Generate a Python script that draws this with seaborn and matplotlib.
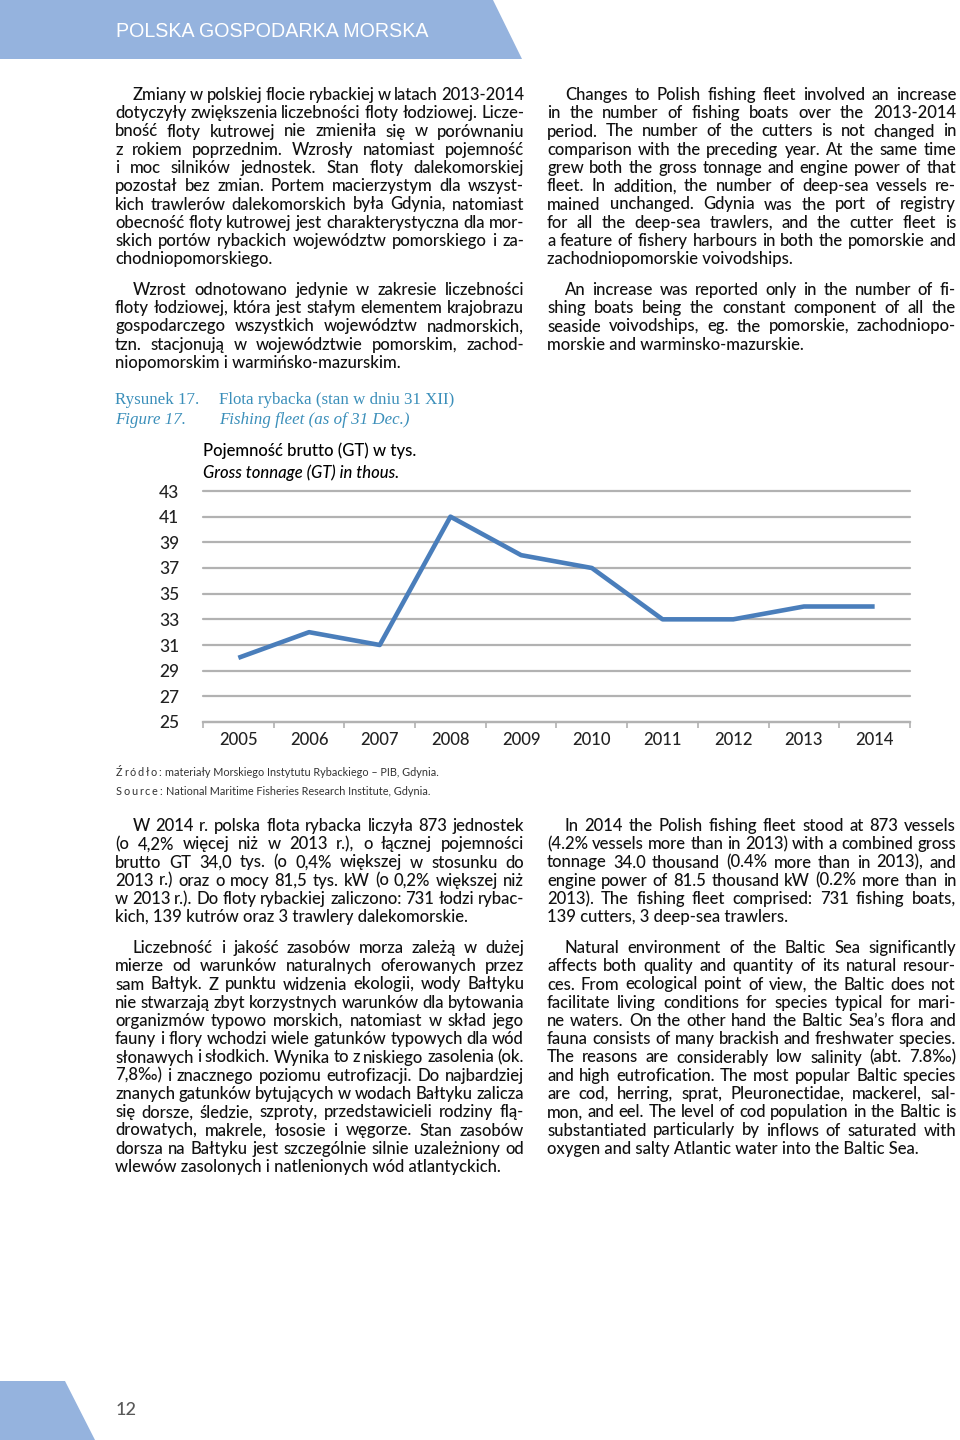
import matplotlib
matplotlib.use("Agg")
import matplotlib.pyplot as plt
import numpy as np
import seaborn as sns
from matplotlib.patches import Polygon

# chart data
years = [2005, 2006, 2007, 2008, 2009, 2010, 2011, 2012, 2013, 2014]
gross_tonnage = [30, 32, 31, 41, 38, 37, 33, 33, 34, 34]
y_ticks = [25, 27, 29, 31, 33, 35, 37, 39, 41, 43]

header_text = "POLSKA GOSPODARKA MORSKA"
page_number = "12"
caption_pl = ["Rysunek 17.", "Flota rybacka (stan w dniu 31 XII)"]
caption_en = ["Figure 17.", "Fishing fleet (as of 31 Dec.)"]
chart_title = ["Pojemność brutto (GT) w tys.", "Gross tonnage (GT) in thous."]
source_pl = ["Źródło:", "materiały Morskiego Instytutu Rybackiego – PIB, Gdynia."]
source_en = ["Source:", "National Maritime Fisheries Research Institute, Gdynia."]

left_top_1 = [
    "Zmiany w polskiej flocie rybackiej w latach 2013-2014",
    "dotyczyły zwiększenia liczebności floty łodziowej. Licze-",
    "bność floty kutrowej nie zmieniła się w porównaniu",
    "z rokiem poprzednim. Wzrosły natomiast pojemność",
    "i moc silników jednostek. Stan floty dalekomorskiej",
    "pozostał bez zmian. Portem macierzystym dla wszyst-",
    "kich trawlerów dalekomorskich była Gdynia, natomiast",
    "obecność floty kutrowej jest charakterystyczna dla mor-",
    "skich portów rybackich województw pomorskiego i za-",
    "chodniopomorskiego.",
]
left_top_2 = [
    "Wzrost odnotowano jedynie w zakresie liczebności",
    "floty łodziowej, która jest stałym elementem krajobrazu",
    "gospodarczego wszystkich województw nadmorskich,",
    "tzn. stacjonują w województwie pomorskim, zachod-",
    "niopomorskim i warmińsko-mazurskim.",
]
right_top_1 = [
    "Changes to Polish fishing fleet involved an increase",
    "in the number of fishing boats over the 2013-2014",
    "period. The number of the cutters is not changed in",
    "comparison with the preceding year. At the same time",
    "grew both the gross tonnage and engine power of that",
    "fleet. In addition, the number of deep-sea vessels re-",
    "mained unchanged. Gdynia was the port of registry",
    "for all the deep-sea trawlers, and the cutter fleet is",
    "a feature of fishery harbours in both the pomorskie and",
    "zachodniopomorskie voivodships.",
]
right_top_2 = [
    "An increase was reported only in the number of  fi-",
    "shing boats being the constant component of all the",
    "seaside voivodships, eg. the pomorskie, zachodniopo-",
    "morskie and warminsko-mazurskie.",
]
left_bottom_1 = [
    "W 2014 r. polska flota rybacka liczyła 873 jednostek",
    "(o 4,2% więcej niż w 2013 r.), o łącznej pojemności",
    "brutto GT 34,0 tys. (o 0,4% większej w stosunku do",
    "2013 r.) oraz o mocy 81,5 tys. kW (o 0,2% większej niż",
    "w 2013 r.). Do floty rybackiej zaliczono: 731 łodzi rybac-",
    "kich, 139 kutrów oraz 3 trawlery dalekomorskie.",
]
left_bottom_2 = [
    "Liczebność i jakość zasobów morza zależą w dużej",
    "mierze od warunków naturalnych oferowanych przez",
    "sam Bałtyk. Z punktu widzenia ekologii, wody Bałtyku",
    "nie stwarzają zbyt korzystnych warunków dla bytowania",
    "organizmów typowo morskich, natomiast w skład jego",
    "fauny i flory wchodzi wiele gatunków typowych dla wód",
    "słonawych i słodkich. Wynika to z niskiego zasolenia (ok.",
    "7,8‰) i znacznego poziomu eutrofizacji. Do najbardziej",
    "znanych gatunków bytujących w wodach Bałtyku zalicza",
    "się dorsze, śledzie, szproty, przedstawicieli rodziny flą-",
    "drowatych, makrele, łososie i węgorze. Stan zasobów",
    "dorsza na Bałtyku jest szczególnie silnie uzależniony od",
    "wlewów zasolonych i natlenionych wód atlantyckich.",
]
right_bottom_1 = [
    "In 2014 the Polish fishing fleet stood at 873 vessels",
    "(4.2% vessels more than in 2013) with a combined gross",
    "tonnage 34.0 thousand (0.4% more than in 2013), and",
    "engine power of 81.5 thousand kW (0.2% more than in",
    "2013). The fishing fleet comprised: 731 fishing boats,",
    "139 cutters, 3 deep-sea trawlers.",
]
right_bottom_2 = [
    "Natural environment of the Baltic Sea significantly",
    "affects both quality and quantity of its natural resour-",
    "ces. From ecological point of view, the Baltic does not",
    "facilitate living conditions for species typical for mari-",
    "ne waters. On the other hand the Baltic Sea’s flora and",
    "fauna consists of many brackish and freshwater species.",
    "The reasons are considerably low salinity (abt. 7.8‰)",
    "and high eutrofication. The most popular Baltic species",
    "are cod, herring, sprat, Pleuronectidae, mackerel, sal-",
    "mon, and eel. The level of cod population in the Baltic is",
    "substantiated particularly by inflows of saturated with",
    "oxygen and salty Atlantic water into the Baltic Sea.",
]

BLUE_BAND = "#95b3de"
BODY = "#111111"
TEAL = "#3b8fba"
LINE = "#4a7ebb"
GRID = "#b2b2b2"
WEIGHT = "medium"

sns.set_theme(style="white")
plt.rcParams["font.family"] = ["Lato", "DejaVu Sans"]

fig = plt.figure(figsize=(9.6, 14.4), dpi=100)
page = fig.add_axes([0, 0, 1, 1])
page.set_xlim(0, 960)
page.set_ylim(1440, 0)
page.axis("off")
renderer = fig.canvas.get_renderer()


def width_of(text, size, **kw):
    t = page.text(0, 0, text, fontsize=size, **kw)
    w = t.get_window_extent(renderer).width
    t.remove()
    return w


def fit_size(text, target, **kw):
    return 10 * target / width_of(text, 10, **kw)


def draw_line(line, left, right, y, justify, size):
    words = [w for w in line.split(" ") if w]
    avail = right - left
    if not justify or len(words) < 2:
        s = size
        w = width_of(line, s, weight=WEIGHT)
        if w > avail:
            s *= avail / w
        page.text(left, y, line, fontsize=s, weight=WEIGHT, color=BODY,
                  va="baseline", ha="left")
        return
    s = size
    while True:
        ws = [width_of(w, s, weight=WEIGHT) for w in words]
        gap = (avail - sum(ws)) / (len(words) - 1)
        if gap >= 0.17 * s * 100 / 72 or s < size * 0.8:
            break
        s *= 0.975
    x = left
    for w, wd in zip(words, ws):
        page.text(x, y, w, fontsize=s, weight=WEIGHT, color=BODY, va="baseline", ha="left")
        x += wd + gap


def draw_par(lines, x0, x1, y0, size, step=18.25, indent=18):
    for i, line in enumerate(lines):
        left = x0 + (indent if i == 0 else 0)
        draw_line(line, left, x1, y0 + i * step, i < len(lines) - 1, size)


def tracked(text, x, y, size, track, **kw):
    for ch in text:
        page.text(x, y, ch, fontsize=size, va="baseline", ha="left", **kw)
        x += width_of(ch, size) + track
    return x


# header and footer bands
page.add_patch(Polygon([(0, 0), (493, 0), (522, 59), (0, 59)], closed=True,
                       facecolor=BLUE_BAND, edgecolor="none"))
page.add_patch(Polygon([(0, 1381), (65, 1381), (95, 1440), (0, 1440)], closed=True,
                       facecolor=BLUE_BAND, edgecolor="none"))
hs = fit_size(header_text, 312, family="Liberation Sans")
page.text(116, 37, header_text, fontsize=hs, family="Liberation Sans",
          color="white", va="baseline", ha="left")
page.text(116, 1415, page_number, fontsize=13, weight=WEIGHT, color="#595959",
          va="baseline", ha="left")

# body text size calibrated on the unjustified paragraph endings
calib = [("wlewów zasolonych i natlenionych wód atlantyckich.", 388),
         ("oxygen and salty Atlantic water into the Baltic Sea.", 372),
         ("zachodniopomorskie voivodships.", 250)]
body = float(np.mean([fit_size(t, w, weight=WEIGHT) for t, w in calib]))

L0, L1, R0, R1 = 115, 524, 547, 956
draw_par(left_top_1, L0, L1, 100, body)
draw_par(right_top_1, R0, R1, 100, body)
draw_par(left_top_2, L0, L1, 295, body)
draw_par(right_top_2, R0, R1, 295, body)
draw_par(left_bottom_1, L0, L1, 831, body)
draw_par(right_bottom_1, R0, R1, 831, body)
draw_par(left_bottom_2, L0, L1, 953, body)
draw_par(right_bottom_2, R0, R1, 953, body)

# figure caption
SERIF = "Liberation Serif"
cs = fit_size(caption_pl[1], 235, family=SERIF)
page.text(115, 404, caption_pl[0], fontsize=cs, family=SERIF, color=TEAL, va="baseline")
page.text(219, 404, caption_pl[1], fontsize=cs, family=SERIF, color=TEAL, va="baseline")
page.text(115, 424, caption_en[0], fontsize=cs, family=SERIF, style="italic",
          color=TEAL, va="baseline")
page.text(219, 424, caption_en[1], fontsize=cs, family=SERIF, style="italic",
          color=TEAL, va="baseline")

ts = fit_size(chart_title[0], 214, weight=WEIGHT)
page.text(203, 456, chart_title[0], fontsize=ts, weight=WEIGHT, color="black", va="baseline")
page.text(203, 478, chart_title[1], fontsize=ts, weight=WEIGHT, style="italic",
          color="black", va="baseline")

# source
ss = fit_size(source_pl[0] + " " + source_pl[1], 310)
x = tracked(source_pl[0], 116, 776, ss, 1.6, color="#333333")
page.text(x + 3, 776, source_pl[1], fontsize=ss, color="#333333", va="baseline")
x = tracked(source_en[0], 116, 795, ss, 1.6, color="#333333")
page.text(x + 3, 795, source_en[1], fontsize=ss, color="#333333", va="baseline")

# chart
pl, pr, pt, pb = 203, 910, 491, 722
ax = fig.add_axes([pl / 960, 1 - pb / 1440, (pr - pl) / 960, (pb - pt) / 1440])
ax.set_facecolor("none")
sns.lineplot(x=years, y=gross_tonnage, ax=ax, color=LINE, linewidth=3.3,
             solid_joinstyle="round", solid_capstyle="butt")
ax.set_xlim(2004.5, 2014.5)
ax.set_ylim(25, 43)
ax.set_yticks(y_ticks)
ax.set_xticks(years)
ax.set_xticks(np.arange(2004.5, 2015, 1), minor=True)
ax.set_xticklabels([str(y) for y in years])
ax.yaxis.grid(True, color=GRID, linewidth=1.6)
ax.xaxis.grid(False)
for gl in ax.get_ygridlines():
    gl.set_clip_on(False)
for side in ["top", "right", "left"]:
    ax.spines[side].set_visible(False)
ax.spines["bottom"].set_color(GRID)
ax.spines["bottom"].set_linewidth(1.6)
ax.tick_params(axis="y", length=0, pad=17, labelsize=12.5, labelcolor="#222222")
ax.tick_params(axis="x", which="major", length=0, pad=7, labelsize=12, labelcolor="#222222")
ax.tick_params(axis="x", which="minor", bottom=True, length=4, width=1.2, color=GRID)
for lab in ax.get_xticklabels() + ax.get_yticklabels():
    lab.set_fontweight(WEIGHT)
ax.set_xlabel("")
ax.set_ylabel("")

fig.savefig("out.png", dpi=100)
